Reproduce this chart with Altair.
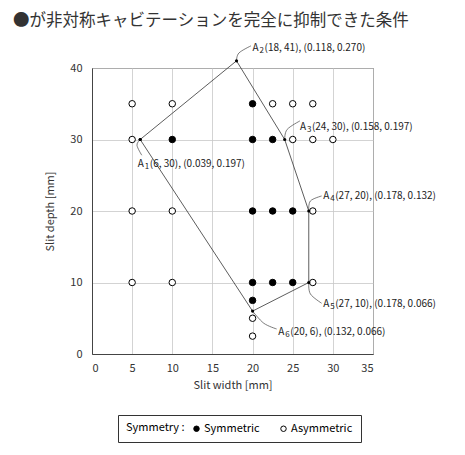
import altair as alt
import pandas as pd

FONT = "Noto Sans CJK JP"

# Measured conditions
sym_x = [20, 10, 20, 22.5, 20, 22.5, 25, 20, 22.5, 25, 20]
sym_y = [35, 30, 30, 30, 20, 20, 20, 10, 10, 10, 7.5]
asym_x = [5, 10, 22.5, 25, 27.5, 5, 25, 27.5, 30, 5, 10, 27.5, 5, 10, 27.5, 20, 20]
asym_y = [35, 35, 35, 35, 35, 30, 30, 30, 30, 20, 20, 20, 10, 10, 10, 5, 2.5]

# Boundary polygon vertices
vert_sub = ["1", "2", "3", "4", "5", "6"]
vert_x = [6, 18, 24, 27, 27, 20]
vert_y = [30, 41, 30, 20, 10, 6]
vert_coef = ["(0.039, 0.197)", "(0.118, 0.270)", "(0.158, 0.197)",
             "(0.178, 0.132)", "(0.178, 0.066)", "(0.132, 0.066)"]

# annotation anchors (data units)
label_x = [5.7, 20.0, 25.9, 28.8, 28.8, 23.2]
label_y = [26.6, 42.8, 31.7, 22.1, 7.0, 3.1]
lead_mid_x = [5.6, 18.3, 24.3, 27.2, 27.2, 21.4]
lead_mid_y = [29.2, 42.1, 31.4, 21.4, 8.4, 4.3]
lead_end_x = [6.2, 19.8, 25.9, 28.6, 28.6, 23.0]
lead_end_y = [27.8, 43.1, 32.6, 22.1, 7.1, 3.5]

pts = pd.DataFrame({
    "w": sym_x + asym_x,
    "d": sym_y + asym_y,
    "Symmetry": ["Symmetric"] * len(sym_x) + ["Asymmetric"] * len(asym_x),
})

poly = pd.DataFrame({
    "w": vert_x + [vert_x[0]],
    "d": vert_y + [vert_y[0]],
    "o": list(range(len(vert_x) + 1)),
})

labels = pd.DataFrame({
    "w": label_x,
    "d": label_y,
    "sub": vert_sub,
    "t": [f"({x}, {y}), {c}" for x, y, c in zip(vert_x, vert_y, vert_coef)],
})

lead_rows = []
for i in range(len(vert_x)):
    lead_rows.append({"g": i, "o": 0, "w": vert_x[i], "d": vert_y[i]})
    lead_rows.append({"g": i, "o": 1, "w": lead_mid_x[i], "d": lead_mid_y[i]})
    lead_rows.append({"g": i, "o": 2, "w": lead_end_x[i], "d": lead_end_y[i]})
leads = pd.DataFrame(lead_rows)

xs = alt.Scale(domain=[0, 35], nice=False)
ys = alt.Scale(domain=[0, 40], nice=False)

X = alt.X("w:Q", scale=xs, title="Slit width [mm]",
          axis=alt.Axis(values=list(range(0, 36, 5)), labelPadding=8, titlePadding=6))
Y = alt.Y("d:Q", scale=ys, title="Slit depth [mm]",
          axis=alt.Axis(values=list(range(0, 41, 5)), labelPadding=10, titlePadding=14))

poly_line = alt.Chart(poly).mark_line(color="#333", strokeWidth=0.8).encode(
    x=X, y=Y, order="o:Q")

points = alt.Chart(pts).mark_point(filled=True, size=42, stroke="black",
                                    strokeWidth=1, opacity=1).encode(
    x="w:Q", y="d:Q",
    fill=alt.Fill("Symmetry:N",
                  scale=alt.Scale(domain=["Symmetric", "Asymmetric"],
                                  range=["black", "white"]),
                  legend=alt.Legend(orient="none", legendX=26, legendY=347,
                                    direction="horizontal", titleOrient="left",
                                    title="Symmetry :", padding=8,
                                    strokeColor="#333", symbolStrokeColor="black",
                                    symbolStrokeWidth=1, symbolSize=30,
                                    symbolType="circle", columnPadding=18,
                                    labelFontSize=11, titleFontSize=11,
                                    titleFontWeight="normal", labelFont=FONT,
                                    titleFont=FONT, titlePadding=6, labelOffset=2)),
)

verts = alt.Chart(poly).mark_point(filled=True, size=10, color="black", opacity=1).encode(
    x="w:Q", y="d:Q")

leaders = alt.Chart(leads).mark_line(color="#444", strokeWidth=0.7,
                                     interpolate="cardinal").encode(
    x="w:Q", y="d:Q", detail="g:N", order="o:Q")

text_a = alt.Chart(labels).mark_text(align="left", baseline="middle", fontSize=10,
                                     font=FONT, color="#222").encode(
    x="w:Q", y="d:Q", text=alt.value("A"))
text_sub = alt.Chart(labels).mark_text(align="left", baseline="middle", fontSize=8,
                                       font=FONT, color="#222", dx=7, dy=3).encode(
    x="w:Q", y="d:Q", text="sub:N")
text_main = alt.Chart(labels).mark_text(align="left", baseline="middle", fontSize=10,
                                        font=FONT, color="#222", dx=12).encode(
    x="w:Q", y="d:Q", text="t:N")

chart = alt.layer(poly_line, leaders, points, verts, text_a, text_sub, text_main).properties(
    width=281, height=286,
    autosize=alt.AutoSizeParams(type="none"),
    padding={"left": 84, "top": 60, "right": 80, "bottom": 90},
    title=alt.TitleParams("●が非対称キャビテーションを完全に抑制できた条件",
                          anchor="start", frame="group", dx=-79, offset=13,
                          fontSize=16.5, font=FONT, fontWeight="normal", color="#333"),
).configure_axis(
    labelFont=FONT, titleFont=FONT, labelFontSize=11, titleFontSize=11,
    titleFontWeight="normal", labelColor="#333", titleColor="#333",
    domainColor="#444", gridColor="#c8c8c8", gridWidth=0.8, ticks=False,
).configure_view(stroke="#444", strokeWidth=1)

chart.save("out.html", embed_options={"renderer": "svg", "actions": False})
